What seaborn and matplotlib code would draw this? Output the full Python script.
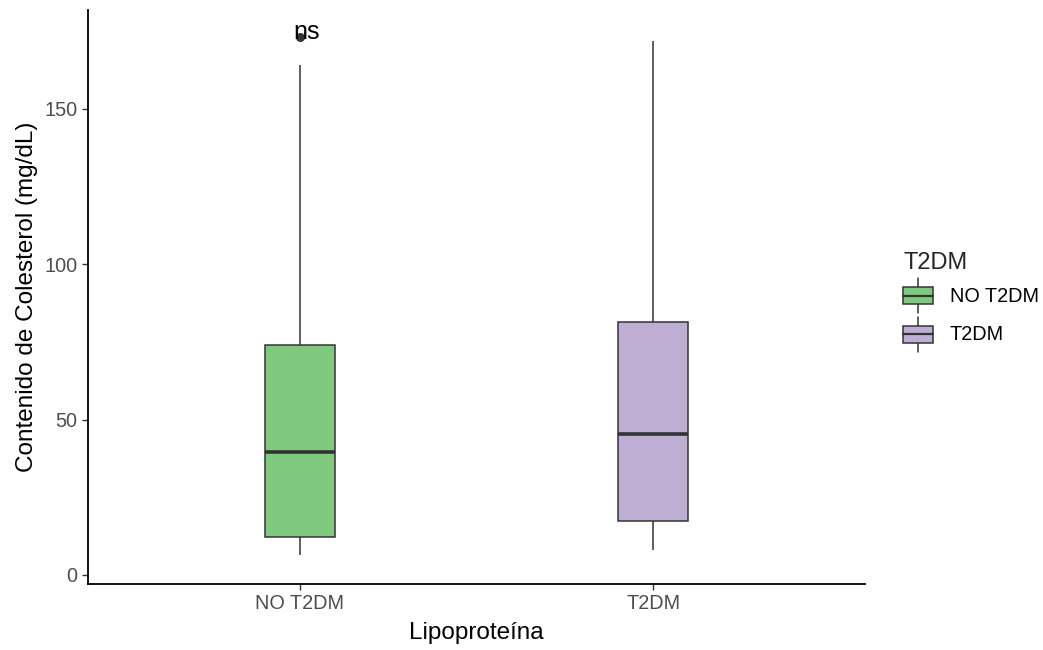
import numpy as np
import pandas as pd
import seaborn as sns
import matplotlib
matplotlib.use("Agg")
import matplotlib.pyplot as plt
from matplotlib.patches import Rectangle, Patch
from matplotlib.lines import Line2D
from matplotlib.legend_handler import HandlerBase

# Cholesterol content per group (mg/dL)
groups = ["NO T2DM", "T2DM"]
no_t2dm_values = [6.4, 9.0, 12.2, 25.0, 39.6, 60.0, 74.0, 164.0, 173.2]
t2dm_values = [8.0, 17.4, 45.4, 81.4, 171.9]
colors = ["#7FC97F", "#BEAED4"]
y_ticks = [0, 50, 100, 150]
test_label = "ns"

df = pd.DataFrame({
    "Lipoproteína": [groups[0]] * len(no_t2dm_values) + [groups[1]] * len(t2dm_values),
    "colesterol": no_t2dm_values + t2dm_values,
})
df["T2DM"] = df["Lipoproteína"]
palette = dict(zip(groups, colors))

sns.set_style("ticks")
plt.rcParams["font.family"] = ["Liberation Sans", "DejaVu Sans"]

EDGE = "#333333"

fig = plt.figure(figsize=(10.43, 6.5), dpi=100)
ax = fig.add_axes([88 / 1043, 1 - 584 / 650, (865 - 88) / 1043, (584 - 10) / 650])

sns.boxplot(
    data=df, x="Lipoproteína", y="colesterol", hue="T2DM",
    order=groups, hue_order=groups, palette=palette, dodge=False,
    width=0.2, saturation=1, linewidth=1.1, linecolor=EDGE,
    showcaps=False, legend=False, ax=ax,
    medianprops=dict(color=EDGE, linewidth=2.6),
    whiskerprops=dict(color=EDGE, linewidth=1.1),
    flierprops=dict(marker="o", markersize=5.5, markerfacecolor=EDGE,
                    markeredgecolor=EDGE),
)

ax.text(-0.02, 172.5, test_label, ha="left", va="baseline",
        fontsize=18, color="black")

ax.set_xlim(-0.6, 1.6)
ax.set_ylim(-2.9, 181.8)
ax.set_yticks(y_ticks)
ax.set_yticklabels([str(t) for t in y_ticks])

for side in ["top", "right"]:
    ax.spines[side].set_visible(False)
for side in ["left", "bottom"]:
    ax.spines[side].set_color("black")
    ax.spines[side].set_linewidth(1.3)

ax.tick_params(axis="both", colors=EDGE, length=4.5, width=1.0,
               labelsize=14.3, labelcolor="#4D4D4D", pad=3)
ax.set_xlabel("Lipoproteína", fontsize=17.5, color="black", labelpad=6)
ax.set_ylabel("Contenido de Colesterol (mg/dL)", fontsize=17.5,
              color="black", labelpad=5)


class BoxKey(HandlerBase):
    def create_artists(self, legend, orig_handle, xdescent, ydescent,
                       width, height, fontsize, trans):
        x0, y0 = -xdescent, -ydescent
        bh = height * 0.5
        by = y0 + (height - bh) / 2
        cx = x0 + width / 2
        rect = Rectangle((x0, by), width, bh,
                         facecolor=orig_handle.get_facecolor(),
                         edgecolor=EDGE, lw=1.1, transform=trans)
        top = Line2D([cx, cx], [by + bh, y0 + height], color=EDGE, lw=1.1,
                     transform=trans)
        bot = Line2D([cx, cx], [y0, by], color=EDGE, lw=1.1, transform=trans)
        med = Line2D([x0, x0 + width], [by + bh / 2] * 2, color=EDGE,
                     lw=1.6, transform=trans)
        return [top, bot, rect, med]


handles = [Patch(facecolor=c) for c in colors]
leg_fs = 14.3
leg = fig.legend(
    handles, groups, title="T2DM", loc="center left",
    bbox_to_anchor=(903 / 1043, 1 - 302 / 650),
    frameon=False, fontsize=leg_fs, title_fontsize=17,
    handlelength=21.6 / leg_fs, handleheight=2.3, labelspacing=0.2,
    handletextpad=0.85, borderpad=0, borderaxespad=0,
    alignment="left", handler_map={Patch: BoxKey()},
)
for t in leg.get_texts():
    t.set_color("black")

fig.savefig("out.png", dpi=100)
